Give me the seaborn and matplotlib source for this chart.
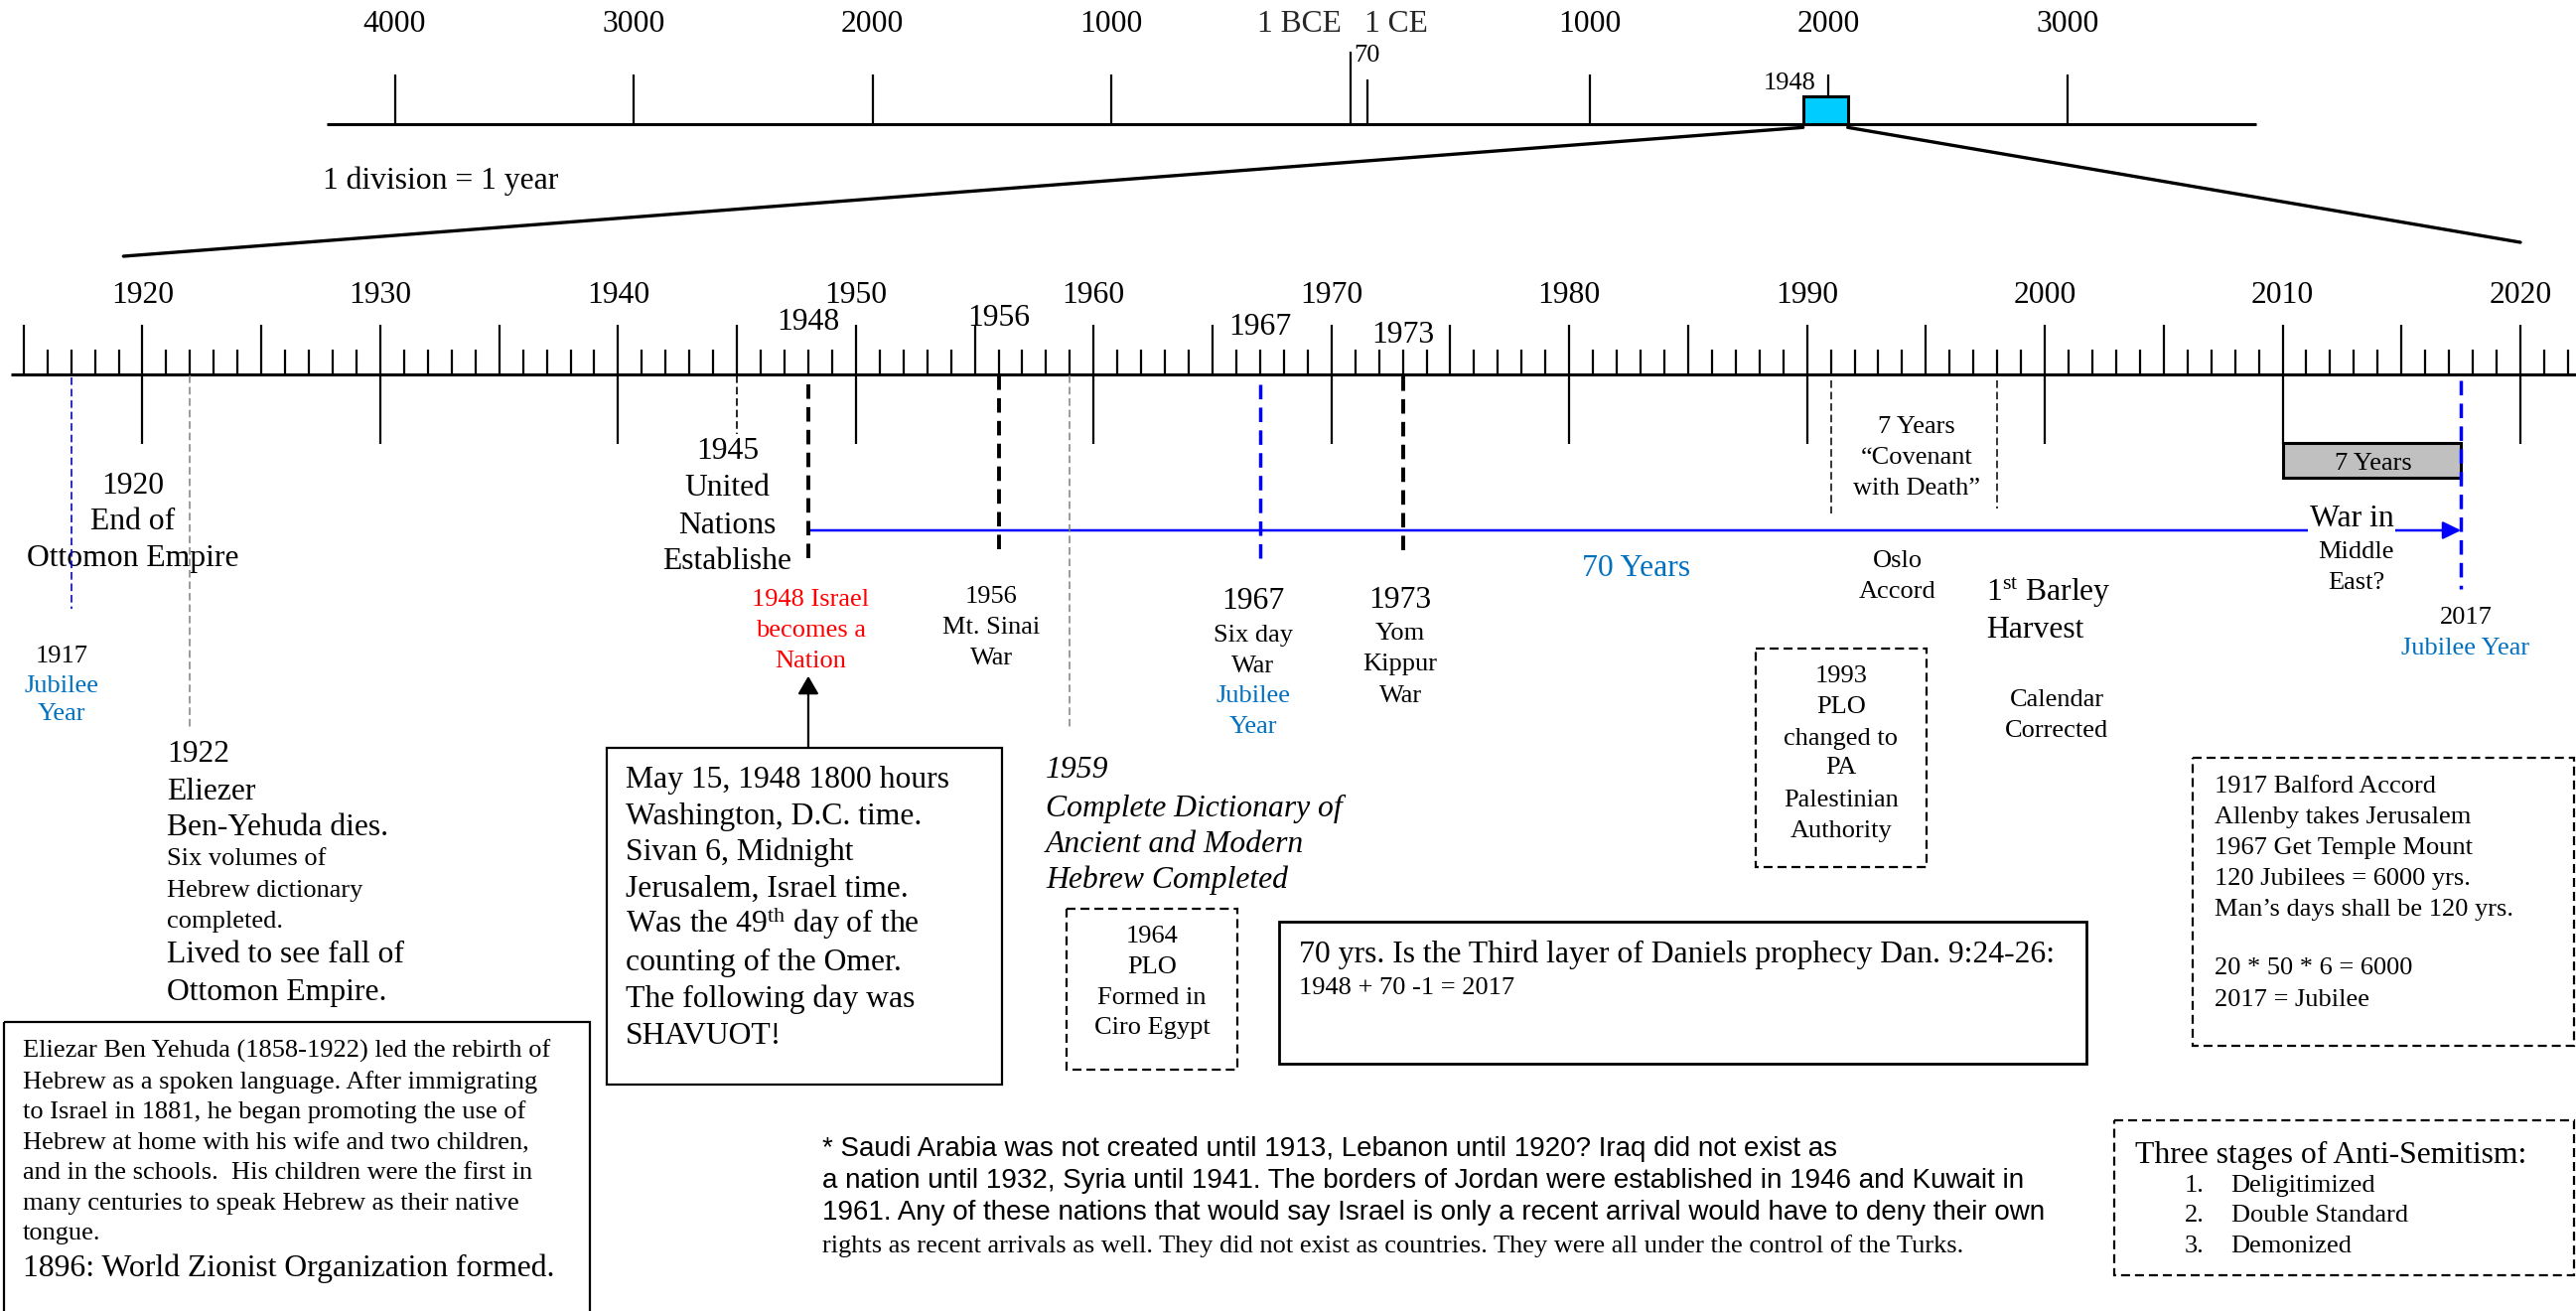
import matplotlib
matplotlib.use("Agg")
import matplotlib.pyplot as plt
from matplotlib.patches import Rectangle, ConnectionPatch
import seaborn as sns

sns.set_theme(style="white")
plt.rcParams["font.family"] = ["Liberation Serif", "DejaVu Serif"]
plt.rcParams["mathtext.fontset"] = "custom"
plt.rcParams["mathtext.rm"] = "Liberation Serif"
plt.rcParams["mathtext.it"] = "Liberation Serif:italic"
plt.rcParams["lines.scale_dashes"] = False
plt.rcParams["lines.solid_capstyle"] = "butt"

# === Data ===
# long scale (years, BCE negative)
era_tick_years = [-4000, -3000, -2000, -1000, 1000, 2000, 3000]
era_tick_labels = ["4000", "3000", "2000", "1000", "1000", "2000", "3000"]
era_zero = 0
era_temple = 70
era_line = (-4285, 3791)
zoom_window = (1894, 2081)
zoom_targets = (1919.2, 2020)

# detailed scale
year_ticks = list(range(1915, 2023))
decades = [1920, 1930, 1940, 1950, 1960, 1970, 1980, 1990, 2000, 2010, 2020]
axis_events = [1948, 1956, 1967, 1973]
detail_line_start = 1914.46

marker_years = [1917, 1922, 1945, 1948, 1956, 1959, 1967, 1973, 1991, 1998, 2017.5]
span_70 = (1948, 2017.5)
last_seven = (2010, 2017.5)

# === Layout (pixels of the 2594 x 1320 page) ===
W, H, DPI = 2594, 1320, 100
LARGE, SMALL, SANS = 22.8, 19.0, 20.0
BLACK, BLUE, TXTBLUE, RED, GREY = "black", "#0000FF", "#0070C0", "#FF0000", "#808080"
SANS_FAM = ["Liberation Sans", "DejaVu Sans"]

TOP_X0, TOP_PPY = 1360.0, 0.2406      # pixel of year 0, pixels per year
LOW_X1920, LOW_PPY = 143.5, 23.945

MARKER_SPANS = [(380, 613), (378, 735), (378, 437), (387, 570), (378, 560), (378, 735),
                (387, 570), (379, 562), (383, 517), (383, 512), (383, 593)]
THICK = (0, (10.5, 6.0))
THIN = (0, (5.5, 2.8))
MARKER_STYLES = [(BLUE, 1.2, THIN), (GREY, 1.1, THIN), (BLACK, 1.2, THIN), (BLACK, 2.8, THICK),
                 (BLACK, 2.8, THICK), (GREY, 1.1, THIN), (BLUE, 2.5, THICK), (BLACK, 2.8, THICK),
                 (BLACK, 1.1, THIN), (BLACK, 1.1, THIN), (BLUE, 2.5, THICK)]


def em(size):
    return size * DPI / 72.0


def write(ax, x, y, s, size=SMALL, ha="center", color=BLACK, **kw):
    ax.text(x, y + 0.32 * em(size), s, fontsize=size, ha=ha, va="baseline",
            color=color, **kw)


def block(ax, x, ys, lines, size=SMALL, ha="center", color=BLACK, **kw):
    for y, s in zip(ys, lines):
        write(ax, x, y, s, size, ha, color, **kw)


fig = plt.figure(figsize=(W / DPI, H / DPI), dpi=DPI)
page = fig.add_axes([0, 0, 1, 1])
top = fig.add_axes([0, 0, 1, 1])
low = fig.add_axes([0, 0, 1, 1])
page.set_xlim(0, W)
top.set_xlim(-TOP_X0 / TOP_PPY, (W - TOP_X0) / TOP_PPY)
low.set_xlim(1920 - LOW_X1920 / LOW_PPY, 1920 + (W - LOW_X1920) / LOW_PPY)
for a in (page, top, low):
    a.set_ylim(H, 0)
    a.axis("off")
    a.patch.set_alpha(0)

# === Long scale ===
sns.lineplot(x=list(era_line), y=[125, 125], ax=top, color=BLACK, lw=2.2)
top.vlines(era_tick_years, 75, 125, colors=BLACK, lw=1.6)
top.vlines([era_zero], 52, 125, colors=BLACK, lw=1.6)
top.vlines([era_temple], 80, 125, colors=BLACK, lw=1.6)
for yr, lab in zip(era_tick_years, era_tick_labels):
    write(top, yr, 21.7, lab, LARGE)
top.annotate("1 BCE", xy=(era_zero, 21.7 + 0.32 * em(LARGE)), xytext=(-6.5, 0),
             textcoords="offset points", ha="right", va="baseline", fontsize=LARGE)
top.annotate("1 CE", xy=(era_zero, 21.7 + 0.32 * em(LARGE)), xytext=(10, 0),
             textcoords="offset points", ha="left", va="baseline", fontsize=LARGE)
write(top, era_temple, 53.3, str(era_temple), SMALL)
top.add_patch(Rectangle((zoom_window[0], 97.3), zoom_window[1] - zoom_window[0], 27.7,
                        fc="#00CCFF", ec=BLACK, lw=2.2, zorder=4))
write(top, 1948, 81.7, "1948", SMALL, ha="right")
write(page, 325, 180, "1 division = 1 year", LARGE, ha="left")

for xa, ya, xb, yb in [(zoom_window[0], 128.3, zoom_targets[0], 258),
                       (zoom_window[1], 128.3, zoom_targets[1], 244)]:
    fig.add_artist(ConnectionPatch(xyA=(xa, ya), coordsA=top.transData,
                                   xyB=(xb, yb), coordsB=low.transData,
                                   color=BLACK, lw=2.4))

# === Detailed scale ===
sns.lineplot(x=[detail_line_start, low.get_xlim()[1]], y=[377, 377], ax=low, color=BLACK, lw=2.2)
five = [y for y in year_ticks if y % 5 == 0]
ones = [y for y in year_ticks if y % 5 != 0]
low.vlines(ones, 352, 377, colors=BLACK, lw=1.6)
low.vlines(five, 327, 377, colors=BLACK, lw=1.6)
low.vlines(decades, 377, 447, colors=BLACK, lw=1.6)
for d in decades:
    write(low, d, 295, str(d), LARGE)
for yr, yy in zip(axis_events, [321.7, 318.3, 326.7, 335]):
    write(low, yr, yy, str(yr), LARGE)

for yr, (y0, y1), (c, lw, ls) in zip(marker_years, MARKER_SPANS, MARKER_STYLES):
    low.vlines(yr, y0, y1, colors=c, lw=lw, linestyles=[ls], zorder=5)

low.add_patch(Rectangle((last_seven[0], 446), last_seven[1] - last_seven[0], 34.7,
                        fc="#C0C0C0", ec=BLACK, lw=2.2, zorder=4))
write(low, 2013.8, 465, "7 Years", SMALL, zorder=6)

low.annotate("", xy=(span_70[1], 534), xytext=(span_70[0], 534),
             arrowprops=dict(arrowstyle="-|>,head_length=0.55,head_width=0.27",
                             color=BLUE, lw=1.8, shrinkA=0, shrinkB=0, mutation_scale=20))
write(low, 2012.9, 520, "War in", LARGE, bbox=dict(fc="white", ec="none", pad=1), zorder=6)
block(low, 2013.1, [554, 585], ["Middle", "East?"], SMALL)
write(low, 1982.8, 570, "70 Years", LARGE, color=TXTBLUE)

low.annotate("", xy=(1948, 680.7), xytext=(1948, 752.6),
             arrowprops=dict(arrowstyle="-|>,head_length=0.55,head_width=0.32",
                             color=BLACK, lw=1.6, shrinkA=0, shrinkB=0, mutation_scale=20))

# event captions
block(low, 1919.6, [486.7, 523.3, 560], ["1920", "End of", "Ottomon Empire"], LARGE)
write(low, 1916.6, 658.3, "1917", SMALL)
block(low, 1916.6, [688.3, 716.7], ["Jubilee", "Year"], SMALL, color=TXTBLUE)
block(low, 1944.6, [451.7, 489.3, 526.7, 563.3], ["1945", "United", "Nations", "Establishe"], LARGE)
block(low, 1948.1, [601.7, 632.7, 664], ["1948 Israel", "becomes a", "Nation"], SMALL, color=RED)
block(low, 1955.7, [598.3, 629.3, 660.7], ["1956", "Mt. Sinai", "War"], SMALL)
write(low, 1966.7, 603.3, "1967", LARGE)
block(low, 1966.7, [637.3, 668.3], ["Six day", "War"], SMALL)
block(low, 1966.7, [698.3, 730], ["Jubilee", "Year"], SMALL, color=TXTBLUE)
write(low, 1972.9, 601.7, "1973", LARGE)
block(low, 1972.9, [636, 666.7, 698.3], ["Yom", "Kippur", "War"], SMALL)
block(low, 1994.6, [427.3, 458.3, 489.3], ["7 Years", "\u201cCovenant", "with Death\u201d"], SMALL)
block(low, 1993.8, [562.7, 594], ["Oslo", "Accord"], SMALL)
block(page, 1999.7, [595, 631.7], [r"1$^{\rm st}$ Barley", "Harvest"], LARGE, ha="left")
block(low, 2000.5, [702.7, 733.6], ["Calendar", "Corrected"], SMALL)
write(low, 2017.7, 619.3, "2017", SMALL)
write(low, 2017.7, 650.7, "Jubilee Year", SMALL, color=TXTBLUE)

# 1922 notes
block(page, 168, [756.5, 795, 830.5], ["1922", "Eliezer", "Ben-Yehuda dies."], LARGE, ha="left")
block(page, 168, [863, 895, 926], ["Six volumes of", "Hebrew dictionary", "completed."], SMALL, ha="left")
block(page, 168, [959, 996.5], ["Lived to see fall of", "Ottomon Empire."], LARGE, ha="left")

# 1959 note
block(page, 1053, [773, 811.5, 848, 884],
      ["1959", "Complete Dictionary of", "Ancient and Modern", "Hebrew Completed"],
      LARGE, ha="left", style="italic")

# === Boxes ===
def box(x0, y0, x1, y1, dashed=False, lw=1.6):
    ls = (0, (6.5, 3.6)) if dashed else "-"
    page.add_patch(Rectangle((x0, y0), x1 - x0, y1 - y0, fc="none", ec=BLACK, lw=lw, ls=ls))


box(1768, 653, 1940, 872.8, dashed=True)
block(page, 1853.7, [679, 710, 741.5, 771, 803.6, 834.4],
      ["1993", "PLO", "changed to", "PA", "Palestinian", "Authority"], SMALL)

box(1074, 914.7, 1246, 1076.8, dashed=True)
block(page, 1160, [941, 971.6, 1002.5, 1033], ["1964", "PLO", "Formed in", "Ciro Egypt"], SMALL)

box(611, 752.6, 1009, 1091.5)
block(page, 630, [783, 820, 856, 893, 929, 967, 1004, 1041],
      ["May 15, 1948 1800 hours", "Washington, D.C. time.", "Sivan 6, Midnight",
       "Jerusalem, Israel time.", r"Was the 49$^{\rm th}$ day of the", "counting of the Omer.",
       "The following day was", "SHAVUOT!"], LARGE, ha="left")

box(1288, 928, 2101, 1071, lw=2.0)
write(page, 1308, 959, "70 yrs. Is the Third layer of Daniels prophecy Dan. 9:24-26:", LARGE, ha="left")
write(page, 1308, 992.6, "1948 + 70 -1 = 2017", SMALL, ha="left")

box(4, 1029, 594, 1330)
block(page, 23, [1056, 1087.5, 1118, 1149, 1179, 1210, 1240],
      ["Eliezar Ben Yehuda (1858-1922) led the rebirth of",
       "Hebrew as a spoken language. After immigrating",
       "to Israel in 1881, he began promoting the use of",
       "Hebrew at home with his wife and two children,",
       "and in the schools.  His children were the first in",
       "many centuries to speak Hebrew as their native",
       "tongue."], SMALL, ha="left")
write(page, 23, 1275, "1896: World Zionist Organization formed.", LARGE, ha="left")

box(2207.8, 762.5, 2591.6, 1053, dashed=True)
block(page, 2230, [790, 821, 852, 882.7, 913.5, 972.8, 1005],
      ["1917 Balford Accord", "Allenby takes Jerusalem", "1967 Get Temple Mount",
       "120 Jubilees = 6000 yrs.", "Man\u2019s days shall be 120 yrs.",
       "20 * 50 * 6 = 6000", "2017 = Jubilee"], SMALL, ha="left")

box(2129, 1128, 2591.6, 1284.4, dashed=True)
write(page, 2150, 1160.6, "Three stages of Anti-Semitism:", LARGE, ha="left")
block(page, 2199.6, [1192, 1222, 1252.8], ["1.", "2.", "3."], SMALL, ha="left")
block(page, 2246.6, [1192, 1222, 1252.8], ["Deligitimized", "Double Standard", "Demonized"],
      SMALL, ha="left")

# footnote
block(page, 827.5, [1154.7, 1187.5, 1219],
      ["* Saudi Arabia was not created until 1913, Lebanon until 1920? Iraq did not exist as",
       "a nation until 1932, Syria until 1941. The borders of Jordan were established in 1946 and Kuwait in",
       "1961. Any of these nations that would say Israel is only a recent arrival would have to deny their own"],
      SANS, ha="left", family=SANS_FAM)
write(page, 827.5, 1252.8,
      "rights as recent arrivals as well. They did not exist as countries. They were all under the control of the Turks.",
      SMALL, ha="left")

fig.savefig("out.png", dpi=DPI, facecolor="white")
print("saved out.png")
